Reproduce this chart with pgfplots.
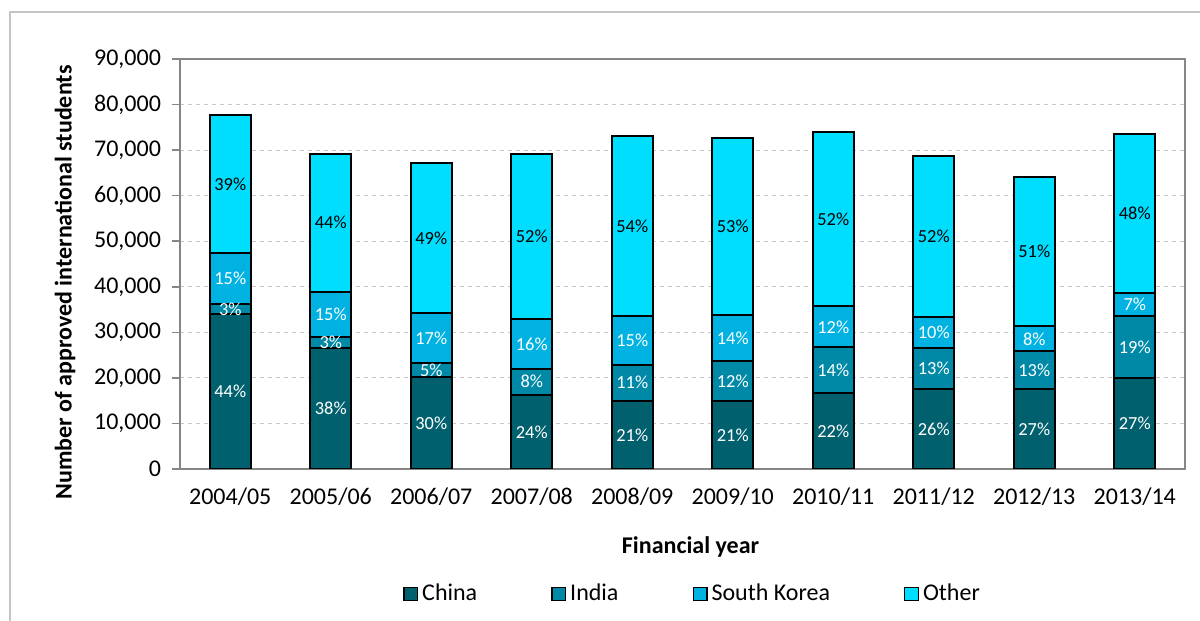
\documentclass[border=0pt]{standalone}
\usepackage{fontspec}
\setmainfont{Carlito}
\usepackage{pgfplots}
\usepackage{pgfplotstable}
\pgfplotsset{compat=1.18}
\definecolor{cChina}{HTML}{00606E}
\definecolor{cIndia}{HTML}{0089A7}
\definecolor{cKorea}{HTML}{00B2E2}
\definecolor{cOther}{HTML}{00DEFF}
\definecolor{axgray}{HTML}{868686}
\definecolor{gridgray}{HTML}{C8C8C8}
\definecolor{framegray}{HTML}{C4C4C4}

% approved students per source, and the printed shares (%)
\pgfplotstableread{
x China India Korea Other pC pI pK pO
0 33960 2260 11140 30240 44 3 15 39
1 26550 2420 9950 30330 38 3 15 44
2 20180 3010 11120 32840 30 5 17 49
3 16290 5710 10920 36180 24 8 16 52
4 14970 7910 10770 39450 21 11 15 54
5 14900 8730 10170 38900 21 12 14 53
6 16590 10110 9010 38290 22 14 12 52
7 17600 9020 6680 35500 26 13 10 52
8 17470 8350 5500 32780 27 13 8 51
9 19890 13630 5120 34860 27 19 7 48
}\students

\pgfplotsset{
  frame/.style={
    at={(90pt,76pt)}, anchor=south west,
    scale only axis, width=502.5pt, height=205pt,
    xmin=-0.5, xmax=9.5, ymin=0, ymax=90000,
  },
  seg/.style={fill=#1, draw=black, line width=1pt,
    legend image code/.code={\draw[fill=#1, draw=black, line width=0.7pt] (0pt,-3.3pt) rectangle (6.8pt,3.3pt);}},
  lab/.style={draw=none, nodes near coords={\pgfplotspointmeta\%}, point meta=explicit symbolic,
    nodes near coords style={anchor=center, text=#1, font=\fontsize{9.2}{10}\selectfont}},
}

\begin{document}
\begin{tikzpicture}
\useasboundingbox (0,0) rectangle (600pt,310.5pt);
\draw[framegray, line width=0.8pt] (5pt,0) -- (5pt,304.5pt) -- (600pt,304.5pt);

\begin{axis}[
  frame,
  ybar stacked, bar width=20.5pt,
  xtick={0,...,9},
  xticklabels={2004/05,2005/06,2006/07,2007/08,2008/09,2009/10,2010/11,2011/12,2012/13,2013/14},
  xtick style={draw=none},
  ytick distance=10000,
  ytick pos=left, tick align=outside,
  major tick length=4pt,
  ytick style={draw=axgray, line width=0.8pt},
  scaled y ticks=false,
  /pgf/number format/.cd, fixed, 1000 sep={,}, assume math mode=true, /pgfplots/.cd,
  tick label style={font=\fontsize{12}{14}\selectfont},
  xticklabel style={yshift=-2pt},
  yticklabel style={xshift=-2pt},
  axis line style={draw=axgray, line width=1pt},
  ymajorgrids, grid style={gridgray, dash pattern=on 2pt off 2pt, line width=0.5pt},
  ylabel={\bfseries Number of approved international students},
  ylabel style={at={(axis description cs:-0.1144,0.455)}, anchor=center, font=\fontsize{12}{14}\selectfont},
  xlabel={\bfseries Financial year},
  xlabel style={at={(axis description cs:0.508,-0.19)}, anchor=center, font=\fontsize{12}{14}\selectfont},
  legend columns=4,
  legend style={at={(axis description cs:0.511,-0.305)}, anchor=center, draw=none, fill=none,
    font=\fontsize{12}{14}\selectfont,
    /tikz/every even column/.append style={column sep=35pt}},
]
\addplot[seg=cChina] table[x=x, y=China] {\students};
\addplot[seg=cIndia] table[x=x, y=India] {\students};
\addplot[seg=cKorea] table[x=x, y=Korea] {\students};
\addplot[seg=cOther] table[x=x, y=Other] {\students};
\legend{China, India, South Korea, Other}
\end{axis}

% share labels, centred in each segment
\begin{axis}[frame, hide axis]
\addplot[lab=white] table[x=x, y expr={\thisrow{China}/2}, meta=pC] {\students};
\addplot[lab=white] table[x=x, y expr={\thisrow{China}+\thisrow{India}/2}, meta=pI] {\students};
\addplot[lab=white] table[x=x, y expr={\thisrow{China}+\thisrow{India}+\thisrow{Korea}/2}, meta=pK] {\students};
\addplot[lab=black] table[x=x, y expr={\thisrow{China}+\thisrow{India}+\thisrow{Korea}+\thisrow{Other}/2}, meta=pO] {\students};
\end{axis}
\end{tikzpicture}
\end{document}
